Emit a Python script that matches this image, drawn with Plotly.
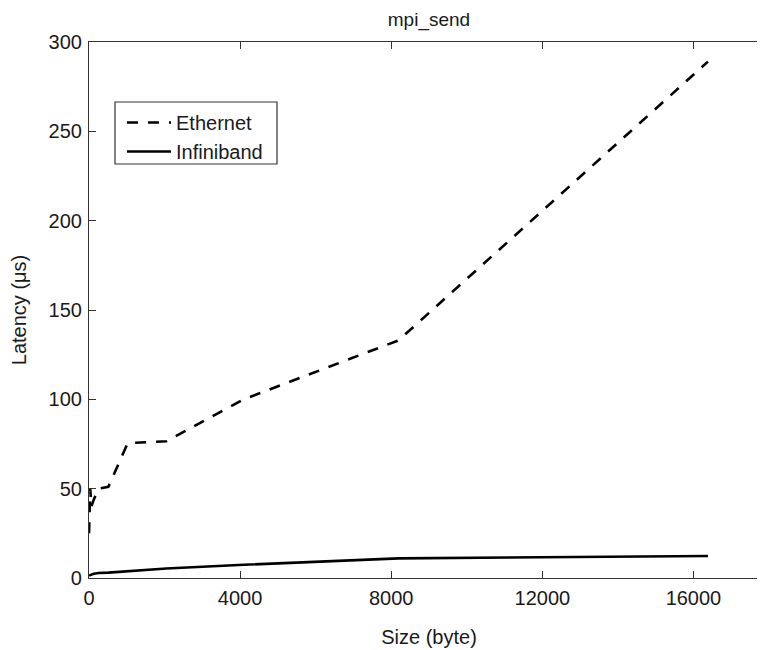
import plotly.graph_objects as go

sizes = [1, 2, 4, 8, 16, 32, 64, 128, 256, 512, 1024, 2048, 4096, 8192, 16384]
ethernet = [25, 27, 29, 33, 40, 50, 40, 44, 50, 51, 75.5, 76.5, 100, 133, 289]
infiniband = [1.3, 1.3, 1.3, 1.4, 1.5, 1.6, 1.9, 2.4, 2.8, 3.0, 3.8, 5.3, 7.4, 11.0, 12.3]
x_ticks = [0, 4000, 8000, 12000, 16000]
y_ticks = [0, 50, 100, 150, 200, 250, 300]

FONT = "Liberation Sans, Arial, Helvetica, sans-serif"
W, H = 765, 650
OFF = 8  # page body margin offset
L, R, T, B = 81, 4, 34, 80
PW, PH = W - L - R, H - T - B

fig = go.Figure()
fig.add_trace(go.Scatter(x=sizes, y=ethernet, mode="lines", name="Ethernet",
                         line=dict(color="black", width=2.6, dash="11px,10px")))
fig.add_trace(go.Scatter(x=sizes, y=infiniband, mode="lines", name="Infiniband",
                         line=dict(color="black", width=2.6)))

axis_common = dict(showgrid=False, zeroline=False, showline=True, linecolor="#333333",
                   linewidth=1.2, ticks="inside", ticklen=7, tickcolor="#333333",
                   tickwidth=1.2, automargin=False, ticklabelstandoff=2,
                   tickfont=dict(family=FONT, size=20, color="#1a1a1a"))


def px(xs):
    return (xs - OFF - L) / PW


def py(ys):
    return (H - B - (ys - OFF)) / PH


fig.add_shape(type="rect", xref="paper", yref="paper",
              x0=px(115), x1=px(277), y0=py(164), y1=py(102),
              line=dict(color="#333333", width=1.2), fillcolor="rgba(0,0,0,0)")

fig.update_layout(
    width=W, height=H,
    margin=dict(l=L, r=R, t=T, b=B),
    paper_bgcolor="white", plot_bgcolor="white",
    font=dict(family=FONT, size=20, color="#1a1a1a"),
    title=dict(text="mpi_send", x=0.5, xref="paper", xanchor="center",
               y=1 - 11 / H, yanchor="middle", yref="container",
               font=dict(family=FONT, size=19, color="#1a1a1a")),
    xaxis=dict(range=[0, 18000], tickvals=x_ticks, ticktext=[str(v) for v in x_ticks],
               mirror="ticks",
               title=dict(text="Size (byte)", standoff=21, font=dict(family=FONT, size=20)),
               **axis_common),
    yaxis=dict(range=[0, 300], tickvals=y_ticks, ticktext=[str(v) for v in y_ticks],
               mirror=False,
               title=dict(text="Latency (μs)", standoff=20, font=dict(family=FONT, size=20)),
               **axis_common),
    legend=dict(x=px(122), y=py(103), xanchor="left", yanchor="top",
                borderwidth=0, bgcolor="rgba(0,0,0,0)", itemwidth=44,
                font=dict(family=FONT, size=20, color="#1a1a1a"), tracegroupgap=0),
    showlegend=True,
)

fig.write_html("out.html")
